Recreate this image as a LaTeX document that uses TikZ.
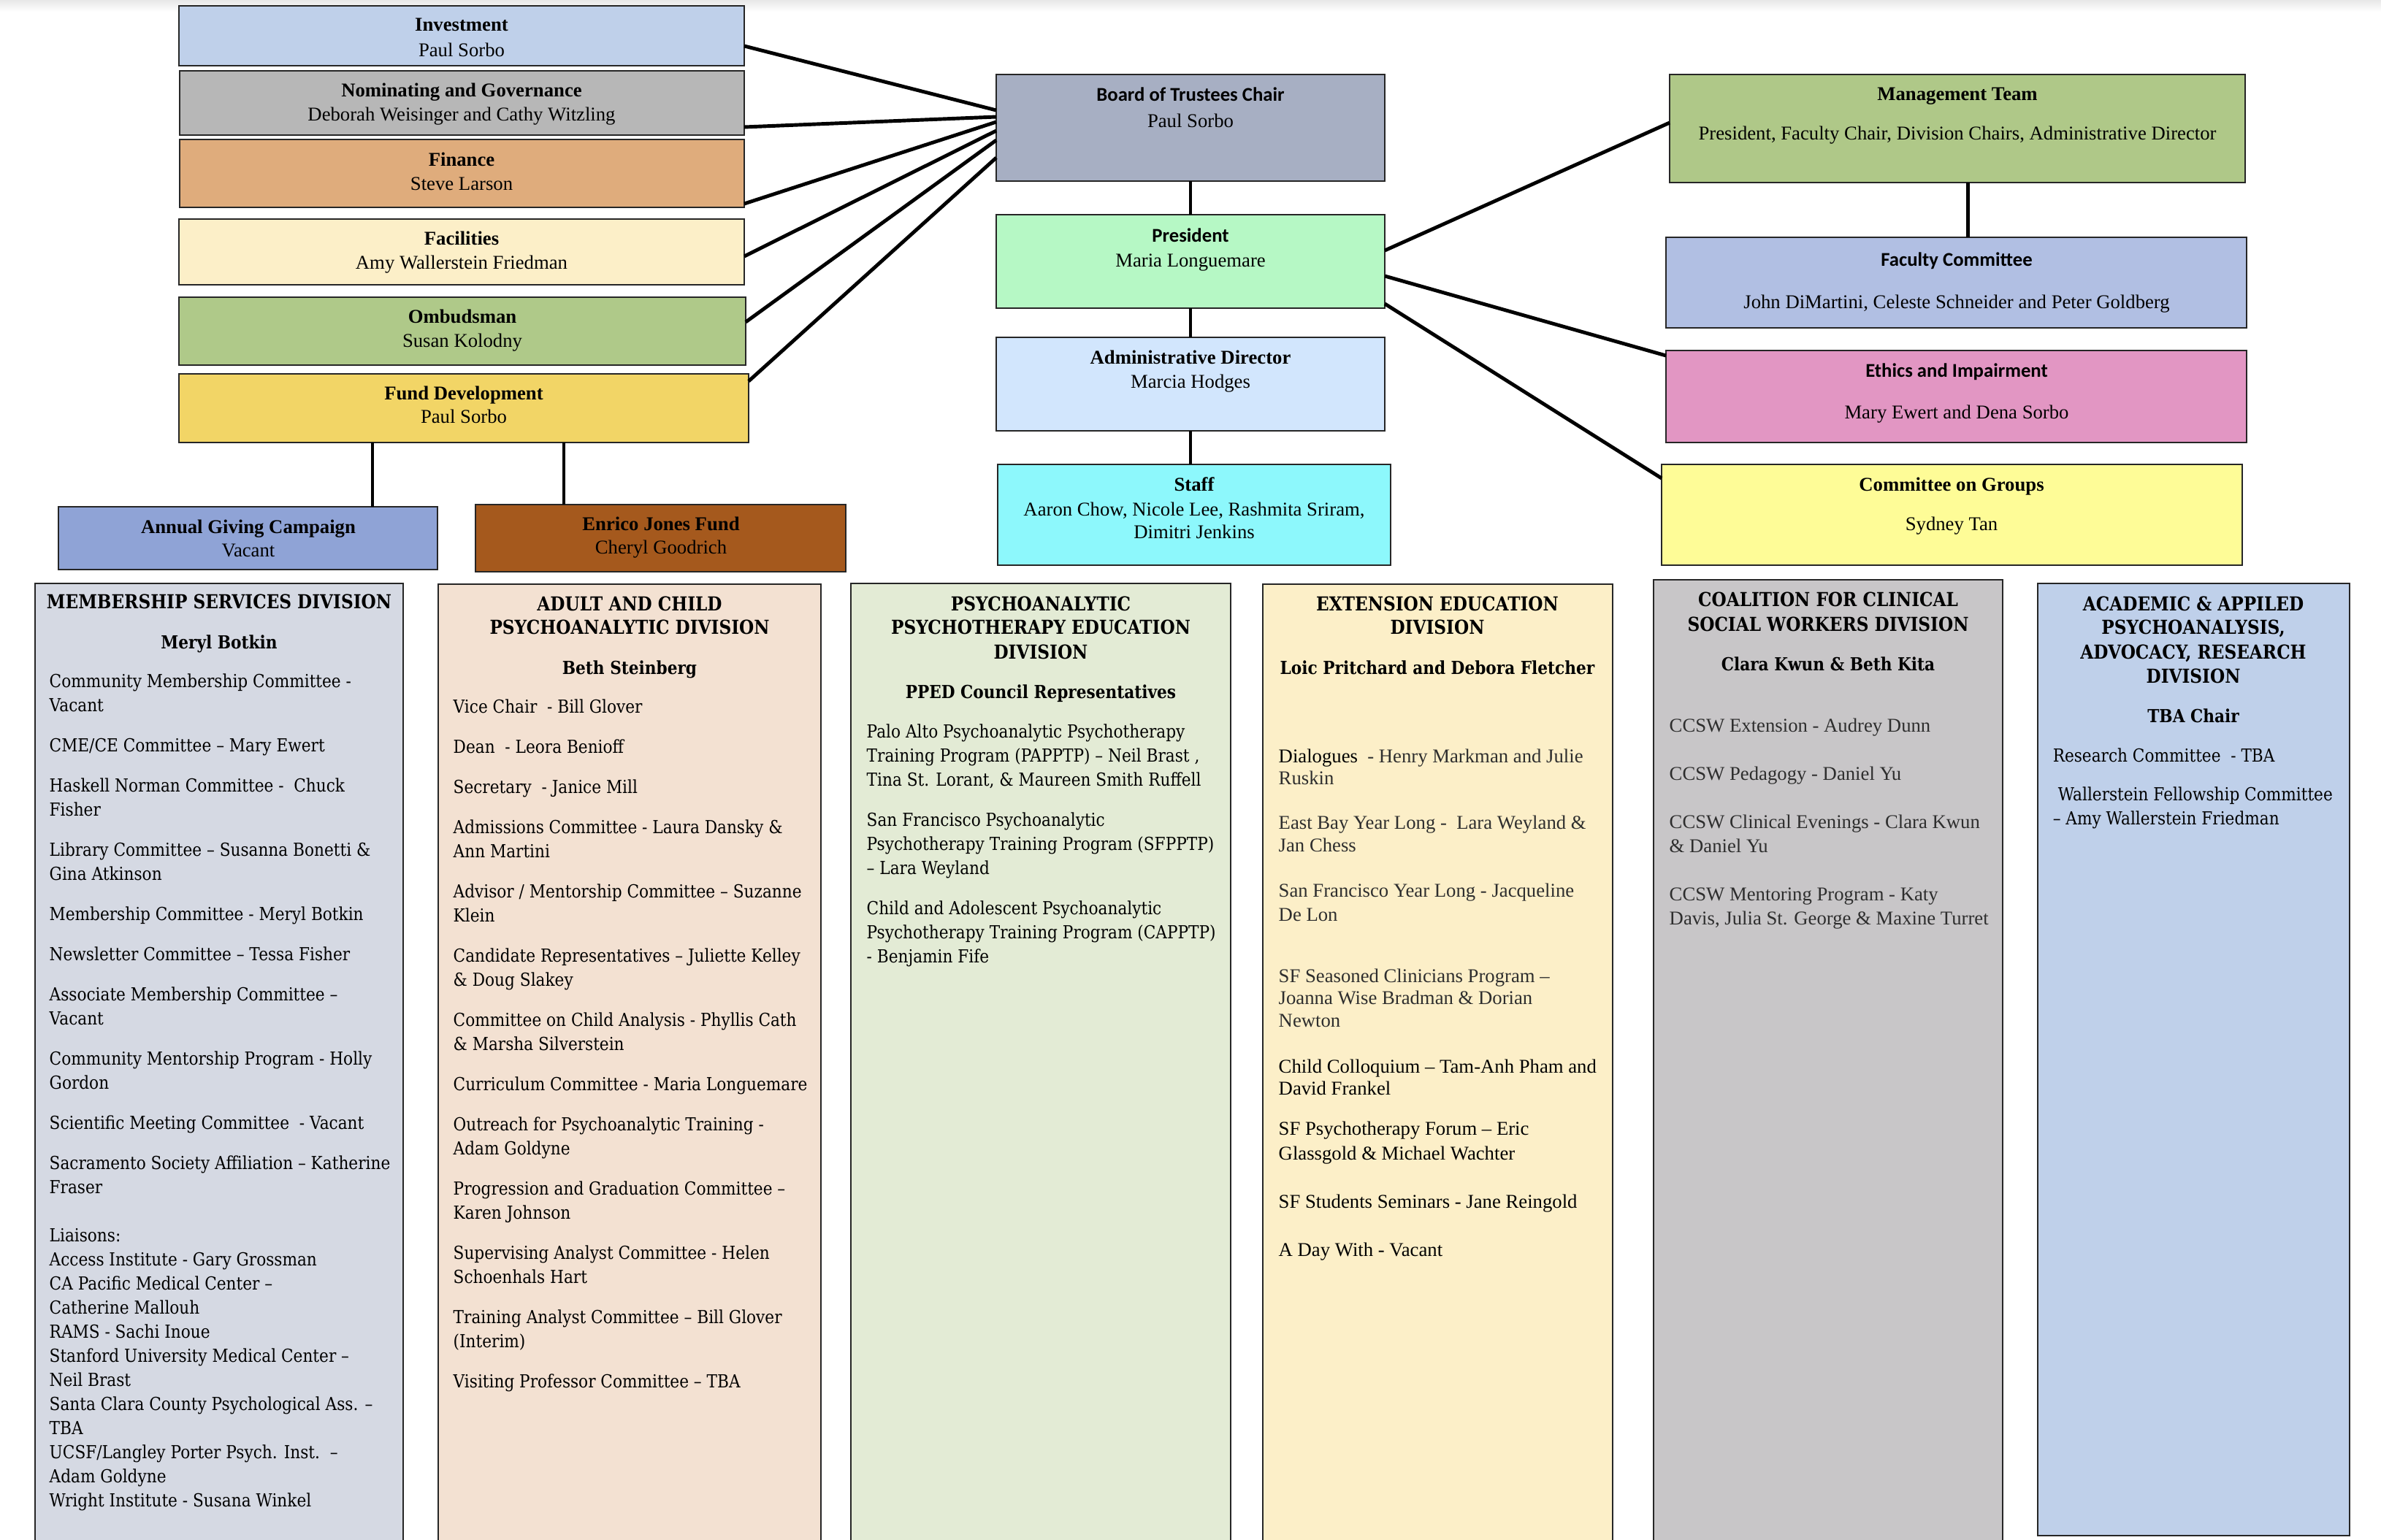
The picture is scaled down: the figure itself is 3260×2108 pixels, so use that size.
\documentclass[tikz,border=0pt]{standalone}
\usepackage{fontspec}
\setmainfont{Liberation Serif}
\newfontfamily\schfont[FakeStretch=0.88]{DejaVu Serif}
\newfontfamily\calfont{Carlito}
\usetikzlibrary{calc}
\definecolor{cInv}{HTML}{BFD0EA}
\definecolor{cNom}{HTML}{B7B7B7}
\definecolor{cFin}{HTML}{DFAC7C}
\definecolor{cFac}{HTML}{FCEFC8}
\definecolor{cOmb}{HTML}{AFC989}
\definecolor{cFund}{HTML}{F2D566}
\definecolor{cAnn}{HTML}{8FA3D6}
\definecolor{cEnr}{HTML}{A5591D}
\definecolor{cBoard}{HTML}{A7AFC3}
\definecolor{cPres}{HTML}{B6F8C5}
\definecolor{cAdm}{HTML}{D2E6FD}
\definecolor{cStaff}{HTML}{8DF8FC}
\definecolor{cMgmt}{HTML}{AFC888}
\definecolor{cFacu}{HTML}{B1BFE3}
\definecolor{cEth}{HTML}{E296C3}
\definecolor{cGrp}{HTML}{FEFC97}
\definecolor{cMemb}{HTML}{D5D9E3}
\definecolor{cAdult}{HTML}{F3E1D2}
\definecolor{cPped}{HTML}{E3EBD5}
\definecolor{cExt}{HTML}{FCEFC8}
\definecolor{cCcsw}{HTML}{C8C6C8}
\definecolor{cAcad}{HTML}{BFD0EA}
\definecolor{gt}{HTML}{2E2E2E}
\tikzset{
  obox/.style={draw=black!85, line width=0.6pt, inner sep=0pt, outer sep=0pt, anchor=north west, rectangle},
  conn/.style={line width=1.4pt, black},
  tb/.style={font=\fontsize{7.6}{9}\selectfont\bfseries, anchor=base, inner sep=0pt},
  tn/.style={font=\fontsize{7.6}{9}\selectfont, anchor=base, inner sep=0pt},
  cb/.style={font=\calfont\fontsize{7.6}{9}\selectfont\bfseries, anchor=base, inner sep=0pt},
  dh/.style={font=\schfont\fontsize{7}{9.39}\selectfont\bfseries, anchor=base, inner sep=0pt},
  dcap/.style={font=\schfont\fontsize{7.5}{9.39}\selectfont\bfseries, anchor=base, inner sep=0pt},
  dbody/.style={font=\schfont\fontsize{7}{9.39}\selectfont, anchor=north west, inner sep=0pt, align=left},
  tbody/.style={font=\fontsize{7.6}{9.39}\selectfont, anchor=north west, inner sep=0pt, align=left},
}
\newcommand\orgbox[6]{\node[obox, fill=#6, minimum width={(#4-#2)*0.1mm}, minimum height={(#5-#3)*0.1mm}] (#1) at (#2,#3) {};}
\begin{document}
\begin{tikzpicture}[x=0.1mm,y=-0.1mm]
\useasboundingbox (0,0) rectangle (3260,2108);
\shade[top color=black!9, bottom color=white] (0,0) rectangle (3260,16);
% ---------- boxes ----------
\orgbox{inv}{245}{8}{1019}{90}{cInv}
\orgbox{nom}{246}{97}{1019}{185}{cNom}
\orgbox{fin}{246}{191}{1019}{284}{cFin}
\orgbox{fac}{245}{300}{1019}{390}{cFac}
\orgbox{omb}{245}{407}{1021}{500}{cOmb}
\orgbox{fund}{245}{512}{1025}{606}{cFund}
\orgbox{annual}{80}{694}{599}{780}{cAnn}
\orgbox{enrico}{651}{691}{1158}{783}{cEnr}
\orgbox{board}{1364}{102}{1896}{248}{cBoard}
\orgbox{pres}{1364}{294}{1896}{422}{cPres}
\orgbox{admin}{1364}{462}{1896}{590}{cAdm}
\orgbox{staff}{1366}{636}{1904}{774}{cStaff}
\orgbox{mgmt}{2286}{102}{3074}{250}{cMgmt}
\orgbox{faculty}{2281}{325}{3076}{449}{cFacu}
\orgbox{ethics}{2281}{480}{3076}{606}{cEth}
\orgbox{groups}{2275}{636}{3070}{774}{cGrp}
\orgbox{memb}{48}{799}{552}{2130}{cMemb}
\orgbox{adult}{600}{800}{1124}{2130}{cAdult}
\orgbox{pped}{1165}{799}{1685}{2130}{cPped}
\orgbox{ext}{1729}{800}{2208}{2130}{cExt}
\orgbox{ccsw}{2264}{794}{2742}{2130}{cCcsw}
\orgbox{acad}{2790}{799}{3217}{2103}{cAcad}
% ---------- connectors ----------
\draw[conn] (inv.east |- 0,63) -- (board.west |- 0,151);
\draw[conn] (nom.east |- 0,174) -- (board.west |- 0,160);
\draw[conn] (fin.east |- 0,279) -- (board.west |- 0,167);
\draw[conn] (fac.east |- 0,351) -- (board.west |- 0,179);
\draw[conn] (omb.east |- 0,441) -- (board.west |- 0,192);
\draw[conn] (fund.east |- 0,522) -- (board.west |- 0,216);
\draw[conn] (510,0 |- fund.south) -- (510,0 |- annual.north);
\draw[conn] (772,0 |- fund.south) -- (772,0 |- enrico.north);
\draw[conn] (board.south) -- (board.south |- pres.north);
\draw[conn] (pres.south) -- (pres.south |- admin.north);
\draw[conn] (admin.south) -- (admin.south |- staff.north);
\draw[conn] (2694,0 |- mgmt.south) -- (2694,0 |- faculty.north);
\draw[conn] (pres.east |- 0,343) -- (mgmt.west |- 0,168);
\draw[conn] (pres.east |- 0,378) -- (ethics.west |- 0,487);
\draw[conn] (pres.east |- 0,416) -- (groups.west |- 0,655);
% ---------- top texts ----------
\node[tb] (invT) at (632,42) {Investment};
\node[tn] (invN) at (632,77) {Paul Sorbo};
\node[tb] (nomT) at (632,132) {Nominating and Governance};
\node[tn] (nomN) at (632,165) {Deborah Weisinger and Cathy Witzling};
\node[tb] (finT) at (632,227) {Finance};
\node[tn] (finN) at (632,260) {Steve Larson};
\node[tb] (facT) at (632,335) {Facilities};
\node[tn] (facN) at (632,368) {Amy Wallerstein Friedman};
\node[tb] (ombT) at (633,442) {Ombudsman};
\node[tn] (ombN) at (633,475) {Susan Kolodny};
\node[tb] (fundT) at (635,547) {Fund Development};
\node[tn] (fundN) at (635,579) {Paul Sorbo};
\node[tb] (annT) at (340,730) {Annual Giving Campaign};
\node[tn] (annN) at (340,762) {Vacant};
\node[tb] (enrT) at (905,726) {Enrico Jones Fund};
\node[tn] (enrN) at (905,758) {Cheryl Goodrich};
\node[cb] (boardT) at (1630,138) {Board of Trustees Chair};
\node[tn] (boardN) at (1630,174) {Paul Sorbo};
\node[cb] (presT) at (1630,331) {President};
\node[tn] (presN) at (1630,365) {Maria Longuemare};
\node[tb] (admT) at (1630,498) {Administrative Director};
\node[tn] (admN) at (1630,531) {Marcia Hodges};
\node[tb] (staffT) at (1635,672) {Staff};
\node[tn] (staffN) at (1635,706) {Aaron Chow, Nicole Lee, Rashmita Sriram,};
\node[tn] (staffN2) at (1635,737) {Dimitri Jenkins};
\node[tb] (mgmtT) at (2680,137) {Management Team};
\node[tn] (mgmtN) at (2680,191) {President, Faculty Chair, Division Chairs, Administrative Director};
\node[cb] (facuT) at (2679,364) {Faculty Committee};
\node[tn] (facuN) at (2679,422) {John DiMartini, Celeste Schneider and Peter Goldberg};
\node[cb] (ethT) at (2679,516) {Ethics and Impairment};
\node[tn] (ethN) at (2679,573) {Mary Ewert and Dena Sorbo};
\node[tb] (grpT) at (2672,672) {Committee on Groups};
\node[tn] (grpN) at (2672,726) {Sydney Tan};
% ---------- Membership ----------
\node[dcap] (membH) at (300,833) {MEMBERSHIP SERVICES DIVISION};
\node[dh] (membC) at (300,888) {Meryl Botkin};
\node[dbody] (membB) at (67,922) {Community Membership Committee -\\
Vacant\\[6.26pt]
CME/CE Committee – Mary Ewert\\[6.26pt]
Haskell Norman Committee -\ \ Chuck\\
Fisher\\[6.26pt]
Library Committee – Susanna Bonetti \&\\
Gina Atkinson\\[6.26pt]
Membership Committee - Meryl Botkin\\[6.26pt]
Newsletter Committee – Tessa Fisher\\[6.26pt]
Associate Membership Committee –\\
Vacant\\[6.26pt]
Community Mentorship Program - Holly\\
Gordon\\[6.26pt]
Scientific Meeting Committee\ \ - Vacant\\[6.26pt]
Sacramento Society Affiliation – Katherine\\
Fraser\\[9.39pt]
Liaisons:\\
Access Institute - Gary Grossman\\
CA Pacific Medical Center –\\
Catherine Mallouh\\
RAMS - Sachi Inoue\\
Stanford University Medical Center –\\
Neil Brast\\
Santa Clara County Psychological Ass. –\\
TBA\\
UCSF/Langley Porter Psych. Inst.\ \ –\\
Adam Goldyne\\
Wright Institute - Susana Winkel};
% ---------- Adult and Child ----------
\node[dcap] (adultH1) at (862,836) {ADULT AND CHILD};
\node[dcap] (adultH2) at (862,868) {PSYCHOANALYTIC DIVISION};
\node[dh] (adultC) at (862,923) {Beth Steinberg};
\node[dbody] (adultB) at (620,957) {Vice Chair\ \ - Bill Glover\\[6.26pt]
Dean\ \ - Leora Benioff\\[6.26pt]
Secretary\ \ - Janice Mill\\[6.26pt]
Admissions Committee - Laura Dansky \&\\
Ann Martini\\[6.26pt]
Advisor / Mentorship Committee – Suzanne\\
Klein\\[6.26pt]
Candidate Representatives – Juliette Kelley\\
\& Doug Slakey\\[6.26pt]
Committee on Child Analysis - Phyllis Cath\\
\& Marsha Silverstein\\[6.26pt]
Curriculum Committee - Maria Longuemare\\[6.26pt]
Outreach for Psychoanalytic Training -\\
Adam Goldyne\\[6.26pt]
Progression and Graduation Committee –\\
Karen Johnson\\[6.26pt]
Supervising Analyst Committee - Helen\\
Schoenhals Hart\\[6.26pt]
Training Analyst Committee – Bill Glover\\
(Interim)\\[6.26pt]
Visiting Professor Committee – TBA};
% ---------- PPED ----------
\node[dcap] (ppedH1) at (1425,836) {PSYCHOANALYTIC};
\node[dcap] (ppedH2) at (1425,868) {PSYCHOTHERAPY EDUCATION};
\node[dcap] (ppedH3) at (1425,902) {DIVISION};
\node[dh] (ppedC) at (1425,956) {PPED Council Representatives};
\node[dbody] (ppedB) at (1186,991) {Palo Alto Psychoanalytic Psychotherapy\\
Training Program (PAPPTP) – Neil Brast ,\\
Tina St. Lorant, \& Maureen Smith Ruffell\\[6.26pt]
San Francisco Psychoanalytic\\
Psychotherapy Training Program (SFPPTP)\\
– Lara Weyland\\[6.26pt]
Child and Adolescent Psychoanalytic\\
Psychotherapy Training Program (CAPPTP)\\
- Benjamin Fife};
% ---------- Extension ----------
\node[dcap] (extH1) at (1968,836) {EXTENSION EDUCATION};
\node[dcap] (extH2) at (1968,868) {DIVISION};
\node[dh] (extC) at (1968,923) {Loic Pritchard and Debora Fletcher};
\node[tbody, font=\fontsize{7.6}{8.7}\selectfont] (extB) at (1750,1025) {Dialogues\textcolor{gt}{\ \ - Henry Markman and Julie}\\
\textcolor{gt}{Ruskin}\\[8.65pt]
\textcolor{gt}{East Bay Year Long -\ \ Lara Weyland \&}\\
\textcolor{gt}{Jan Chess}\\[8.9pt]
\textcolor{gt}{San Francisco Year Long - Jacqueline}\\[0.7pt]
\textcolor{gt}{De Lon}\\[15.2pt]
\textcolor{gt}{SF Seasoned Clinicians Program –}\\
\textcolor{gt}{Joanna Wise Bradman \& Dorian}\\
\textcolor{gt}{Newton}\\[9.2pt]
Child Colloquium – Tam-Anh Pham and\\
David Frankel\\[6.9pt]
SF Psychotherapy Forum – Eric\\[1pt]
Glassgold \& Michael Wachter\\[10.1pt]
SF Students Seminars - Jane Reingold\\[10.1pt]
A Day With - Vacant};
% ---------- CCSW ----------
\node[dcap] (ccswH1) at (2503,830) {COALITION FOR CLINICAL};
\node[dcap] (ccswH2) at (2503,864) {SOCIAL WORKERS DIVISION};
\node[dh] (ccswC) at (2503,918) {Clara Kwun \& Beth Kita};
\node[tbody, text=gt] (ccswB) at (2285,983) {CCSW Extension - Audrey Dunn\\[9.39pt]
CCSW Pedagogy - Daniel Yu\\[9.39pt]
CCSW Clinical Evenings - Clara Kwun\\
\& Daniel Yu\\[9.39pt]
CCSW Mentoring Program - Katy\\
Davis, Julia St. George \& Maxine Turret};
% ---------- Academic ----------
\node[dcap] (acadH1) at (3003,836) {ACADEMIC \& APPILED};
\node[dcap] (acadH2) at (3003,868) {PSYCHOANALYSIS,};
\node[dcap] (acadH3) at (3003,902) {ADVOCACY, RESEARCH};
\node[dcap] (acadH4) at (3003,935) {DIVISION};
\node[dh] (acadC) at (3003,989) {TBA Chair};
\node[dbody] (acadB) at (2810,1024) {Research Committee\ \ - TBA\\[5.7pt]
\hspace*{2pt}Wallerstein Fellowship Committee\\
– Amy Wallerstein Friedman};
\end{tikzpicture}
\end{document}
